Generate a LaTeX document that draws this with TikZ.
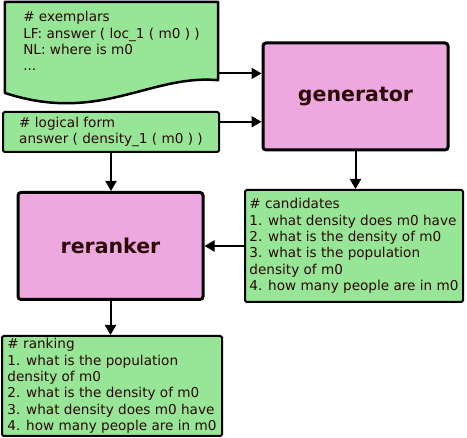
\documentclass[tikz,border=0pt]{standalone}
\usepackage{fontspec}
\setmainfont{DejaVu Sans}
\usepackage{tikz}
\usetikzlibrary{positioning, calc, arrows.meta, backgrounds}
\definecolor{notegreen}{HTML}{97E597}
\definecolor{modelpink}{HTML}{EDA8E0}
\definecolor{ink}{HTML}{2B0808}

\begin{document}
\begin{tikzpicture}[
  x=1pt, y=-1pt,
  font=\fontsize{13.6}{16.3}\selectfont,
  text=ink,
  note/.style={draw, line width=2pt, fill=notegreen, rounded corners=1.5pt, align=left, inner sep=0pt},
  model/.style={draw, line width=3pt, fill=modelpink, rounded corners=3pt, minimum width=185pt, minimum height=107pt, font=\fontsize{20.5}{24}\selectfont\bfseries},
  >={Triangle[length=10pt, width=11pt]},
]
\useasboundingbox (0,0) rectangle (467,438);

\node[align=left, inner sep=0pt, minimum width=213pt, minimum height=78pt] (ex) at (111.5,41) {\# exemplars\\LF: answer ( loc\_1 ( m0 ) )\\NL: where is m0\\...};
\node[note, minimum width=216pt, minimum height=40pt] (lf) at (111,132) {\# logical form\\answer ( density\_1 ( m0 ) )};
\node[model] (gen) at (355.5,96.5) {generator};
\node[model] (rer) at (110.5,246) {reranker};
\node[note, minimum width=218pt, minimum height=112pt] (cand) at (354,246) {\# candidates\\1. what density does m0 have\\2. what is the density of m0\\3. what is the population\\density of m0\\4. how many people are in m0};
\node[note, minimum width=220pt, minimum height=100pt] (rank) at (112,386) {\# ranking\\1. what is the population\\density of m0\\2. what is the density of m0\\3. what density does m0 have\\4. how many people are in m0};

\begin{scope}[on background layer]
\draw[line width=2.5pt, fill=notegreen, line join=round] (ex.north west) -- (ex.north east) -- (ex.south east)
  .. controls (150,74) and (100,124) .. (5,93) -- cycle;
\end{scope}

\coordinate (gin1) at ($(gen.north west)!0.29!(gen.south west)$);
\coordinate (gin2) at ($(gen.north west)!0.73!(gen.south west)$);

\draw[->, line width=2pt] (ex.east |- gin1) -- (gin1);
\draw[->, line width=2pt] (lf.east |- gin2) -- (gin2);
\draw[->, line width=2pt] (gen.south) -- (gen.south |- cand.north);
\draw[->, line width=2pt] (lf.south) -- (lf.south |- rer.north);
\draw[->, line width=2pt] (cand.west) -- (rer.east);
\draw[->, line width=2pt] (rer.south) -- (rer.south |- rank.north);
\end{tikzpicture}
\end{document}
